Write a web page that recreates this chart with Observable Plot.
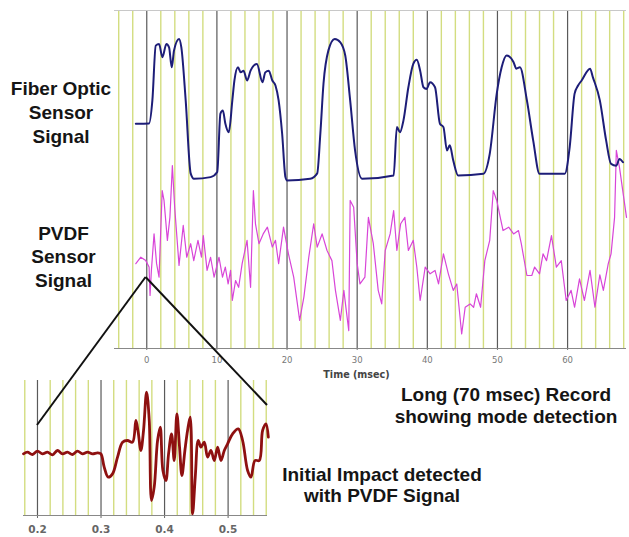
<!DOCTYPE html>
<html><head><meta charset="utf-8">
<script src="https://cdn.jsdelivr.net/npm/d3@7"></script>
<script src="https://cdn.jsdelivr.net/npm/@observablehq/plot@0.6"></script>
<style>
body{margin:0;background:#fff;}
#wrap{position:relative;width:629px;height:537px;overflow:hidden;background:#fff;font-family:"Liberation Sans",Arial,Helvetica,sans-serif;}
#wrap svg{position:absolute;}
.lbl{position:absolute;font-weight:bold;font-size:19px;color:#151515;text-align:center;white-space:nowrap;}
</style></head><body><div id="wrap"></div>
<script>
// ---- Data (time in msec, amplitude in arbitrary units) ----
const fiberSignal = [
[-1.56,66.5],[0.33,66.6],[0.8,73.4],[1.28,89.6],[1.75,90.1],[2.23,86.2],[2.8,90.1],[3.18,89.1],[3.56,83.2],[3.89,88.2],
[4.6,91.6],[4.93,89.1],[5.55,73.4],[6.26,51.8],[6.73,50.2],[9.1,50.7],[10.05,52.2],[10.5,69.5],[10.85,70.4],[11.2,66.6],
[11.7,64],[12.2,73.4],[12.5,79.3],[13.0,83.2],[13.4,81.7],[13.8,82.2],[14.3,79.3],[14.8,82.2],[15.7,84.2],[16.5,78.8],
[16.9,81.7],[17.4,82.2],[17.9,79.3],[18.35,77.8],[18.8,73.4],[19.3,63.6],[19.77,50.7],[20.0,49.7],[23.3,50.2],[24.3,51.8],
[24.75,63.6],[25.2,78.4],[25.9,88.2],[26.8,91.6],[27.6,90.6],[28.3,86.7],[29.0,73.4],[29.7,58.6],[30.7,50.2],[35.2,51.2],
[35.66,65.5],[36.1,64],[36.6,67.5],[37.3,77.3],[38.0,84.2],[38.5,85.4],[38.98,82.2],[39.45,77.3],[39.9,76.8],[40.4,78.8],
[41.1,77.3],[41.8,66.5],[42.3,65.5],[42.8,58.6],[43.2,60.1],[43.7,55.6],[44.4,51.2],[48.0,51.7],[48.9,57.6],[49.9,75.4],
[50.6,83.2],[51.3,86.7],[52.3,84.7],[52.7,82.8],[53.2,83.2],[54.2,73.4],[55.1,61.5],[56.0,51.7],[59.6,51.7],[60.3,59.6],
[61.0,75.4],[61.5,77.8],[62.0,79.3],[63.2,82.8],[63.6,80.3],[64.6,73.4],[65.5,61.5],[66.2,54.6],[66.95,54.1],[67.4,56.1],[67.9,55.1]
];
const pvdfSignal = [
[-1.56,25.1],[-0.85,27.0],[-0.14,26.0],[0.33,24.1],[0.47,15.7],[0.66,23.1],[1.04,33.9],[1.4,25.1],[1.75,21.1],[2.2,46.7],
[2.46,43.8],[2.94,32.0],[3.3,38.8],[3.65,54.1],[3.98,41.8],[4.6,24.6],[5.2,36.4],[5.7,27.0],[6.26,31.0],[6.7,26.0],
[7.3,32.0],[7.8,27.0],[8.06,33.4],[8.6,23.1],[9.1,27.0],[9.6,21.1],[10.3,27.0],[10.8,21.1],[11.2,24.1],[11.6,19.1],
[11.95,23.1],[12.2,14.2],[12.66,20.1],[13.1,18.1],[13.6,25.1],[14.3,32.0],[14.8,18.1],[15.2,46.7],[15.5,36.9],[16.0,31.0],
[16.6,33.9],[17.2,35.9],[17.9,30.0],[18.35,32.0],[18.8,25.1],[19.5,35.9],[20.2,28.0],[20.95,21.1],[21.8,8.3],[22.4,15.2],
[23.1,27.0],[23.8,36.9],[24.3,30.0],[25.0,33.9],[25.7,29.0],[26.4,26.0],[26.9,17.2],[27.6,8.3],[28.1,17.2],[28.45,11.2],
[28.8,5.3],[29.0,43.8],[29.5,41.8],[30.0,25.1],[30.4,19.1],[31.1,21.1],[31.6,38.8],[32.3,31.0],[33.0,17.2],[33.5,13.2],
[34.0,29.0],[34.7,33.9],[35.2,40.8],[35.66,29.0],[36.2,36.9],[36.8,38.8],[37.3,29.0],[38.0,32.0],[38.5,24.1],[38.98,14.2],
[39.7,24.1],[40.4,22.1],[41.1,23.1],[41.6,19.1],[42.3,28.0],[43.0,22.1],[43.7,17.2],[44.2,19.1],[44.9,4.3],[45.4,12.2],
[46.1,13.2],[46.6,12.2],[47.0,16.2],[47.6,12.2],[48.2,26.0],[48.9,32.0],[49.4,46.7],[49.9,43.8],[50.4,38.8],[50.8,34.9],
[51.6,35.9],[52.3,33.9],[53.0,34.9],[53.4,31.0],[54.2,21.6],[54.9,21.6],[55.3,24.1],[56.0,22.1],[56.5,28.0],[57.0,26.0],
[57.7,33.4],[58.4,24.1],[59.1,26.0],[59.8,14.2],[60.5,17.2],[61.0,12.2],[61.7,20.6],[62.4,14.2],[63.2,23.1],[63.9,12.2],
[64.6,21.8],[65.1,17.2],[65.8,25.1],[66.2,28.0],[66.7,38.8],[66.95,58.6],[67.4,53.6],[68.4,38.8]
];
const impactSignal = [
[0.178,-0.02],[0.1843,0.03],[0.1921,-0.04],[0.2,0.06],[0.2079,-0.02],[0.2157,0.03],[0.2236,-0.05],[0.2315,0.08],[0.2394,-0.02],
[0.2472,0.03],[0.2551,-0.04],[0.263,0.06],[0.2709,-0.02],[0.2787,0.03],[0.2866,-0.02],[0.2945,0.01],[0.2997,-0.02],
[0.305,-0.42],[0.3113,-0.72],[0.3181,-0.62],[0.326,-0.12],[0.3339,0.33],[0.3417,0.38],[0.3496,0.33],[0.3549,0.98],
[0.3585,0.63],[0.3627,0.08],[0.3669,0.68],[0.3717,1.83],[0.3759,0.98],[0.3795,-1.42],[0.3837,-1.02],[0.389,0.38],
[0.3932,0.78],[0.3974,-0.52],[0.4021,-0.82],[0.4063,-0.02],[0.411,0.58],[0.4152,-0.22],[0.4194,1.18],[0.4236,0.18],
[0.4273,-0.67],[0.432,0.08],[0.4362,0.68],[0.4404,1.08],[0.4441,-1.82],[0.4483,-0.72],[0.453,0.38],[0.4572,0.18],
[0.4625,0.33],[0.4677,-0.12],[0.473,0.08],[0.4782,-0.22],[0.4835,0.18],[0.4887,-0.22],[0.494,0.08],[0.4992,0.28],
[0.5071,0.58],[0.516,0.73],[0.5228,0.38],[0.5307,-0.52],[0.536,-0.72],[0.5423,-0.22],[0.5491,-0.22],[0.5543,0.68],
[0.5596,0.88],[0.5633,0.48]
];
const mainTicks = [0, 10, 20, 30, 40, 50, 60];
const insetTicks = [0.2, 0.3, 0.4, 0.5];
const zoomPoint = [-0.1, 21];              // main chart: where the impact is magnified
const insetCorners = [[0.2, 0.83], [0.562, 1.43]]; // inset: ends of connector lines

// ---- styles ----
const green = "#d3dd80", dark = "#5a5a5a";

const mainMinor = d3.range(-4, 69, 2).filter(d => d % 10 !== 0);
const insetMinor = d3.range(18, 57, 2).filter(d => d % 10 !== 0).map(d => d / 100);

const wrap = document.getElementById("wrap");

const main = Plot.plot({
  width: 629, height: 380,
  marginLeft: 114, marginRight: 3, marginTop: 10, marginBottom: 32,
  style: {background: "transparent", fontFamily: "DejaVu Sans, sans-serif", fontSize: "8.5px", color: "#777"},
  x: {domain: [-4.6, 68.4], ticks: mainTicks, tickSize: 2, tickPadding: 6, tickFormat: d => d, label: null},
  y: {domain: [0, 100], axis: null},
  marks: [
    Plot.ruleX(mainMinor, {stroke: green, strokeWidth: 1.4}),
    Plot.ruleX(mainTicks, {stroke: dark, strokeWidth: 1.2}),
    Plot.ruleY([100], {stroke: "#c8c8c8"}),
    Plot.ruleY([0], {stroke: "#888"}),
    Plot.line(pvdfSignal, {stroke: "#d845d8", strokeWidth: 1.2}),
    Plot.line(fiberSignal, {stroke: "#1d1d78", strokeWidth: 2, curve: "monotone-x"})
  ]
});
main.style.left = "0px"; main.style.top = "0px";
wrap.appendChild(main);

const inset = Plot.plot({
  width: 290, height: 167,
  marginLeft: 23, marginRight: 23, marginTop: 10, marginBottom: 22,
  style: {background: "transparent", fontFamily: "DejaVu Sans, sans-serif", fontSize: "10.5px", fontWeight: "bold", color: "#666"},
  x: {domain: [0.178, 0.562], ticks: insetTicks, tickSize: 3, tickPadding: 7, tickFormat: d => d.toFixed(1), label: null},
  y: {domain: [-1.87, 2.18], axis: null},
  marks: [
    Plot.ruleX(insetMinor, {stroke: green, strokeWidth: 1.4}),
    Plot.ruleX(insetTicks, {stroke: dark, strokeWidth: 1.2}),
    Plot.ruleY([-1.87], {stroke: "#888", strokeWidth: 1.2}),
    Plot.line(impactSignal, {stroke: "#8e1010", strokeWidth: 2.8, curve: "catmull-rom"})
  ]
});
inset.style.left = "0px"; inset.style.top = "370px";
wrap.appendChild(inset);

function sc(plot, name) {
  const s = plot.scale(name);
  return s.apply ? v => s.apply(v) : d3.scaleLinear(s.domain, s.range);
}
const mx = sc(main, "x"), my = sc(main, "y"), ix = sc(inset, "x"), iy = sc(inset, "y");
const apex = [mx(zoomPoint[0]), my(zoomPoint[1])];
const ends = insetCorners.map(([t, v]) => [ix(t), iy(v) + 370]);

const ov = d3.create("svg").attr("width", 629).attr("height", 537)
  .style("left", "0px").style("top", "0px").style("pointer-events", "none");
ov.selectAll("line").data(ends).join("line")
  .attr("x1", d => d[0]).attr("y1", d => d[1])
  .attr("x2", apex[0]).attr("y2", apex[1])
  .attr("stroke", "#111").attr("stroke-width", 2);
wrap.appendChild(ov.node());

function label(lines, cx, top, lh, extra) {
  const d = document.createElement("div");
  d.className = "lbl";
  d.style.left = (cx - 150) + "px"; d.style.width = "300px";
  d.style.top = top + "px"; d.style.lineHeight = lh + "px";
  if (extra) Object.assign(d.style, extra);
  d.innerHTML = lines.join("<br>");
  wrap.appendChild(d);
}
label(["Fiber Optic", "Sensor", "Signal"], 61, 77.4, 23.8);
label(["PVDF", "Sensor", "Signal"], 63.5, 221.7, 23.4);
label(["Long (70 msec) Record", "showing mode detection"], 506, 384, 22);
label(["Initial Impact detected", "with PVDF Signal"], 382, 463.6, 21);
label(["Time (msec)"], 356.5, 369, 11.2, {fontFamily: "DejaVu Sans, sans-serif", fontSize: "9.6px", color: "#444"});
</script>
</body></html>
